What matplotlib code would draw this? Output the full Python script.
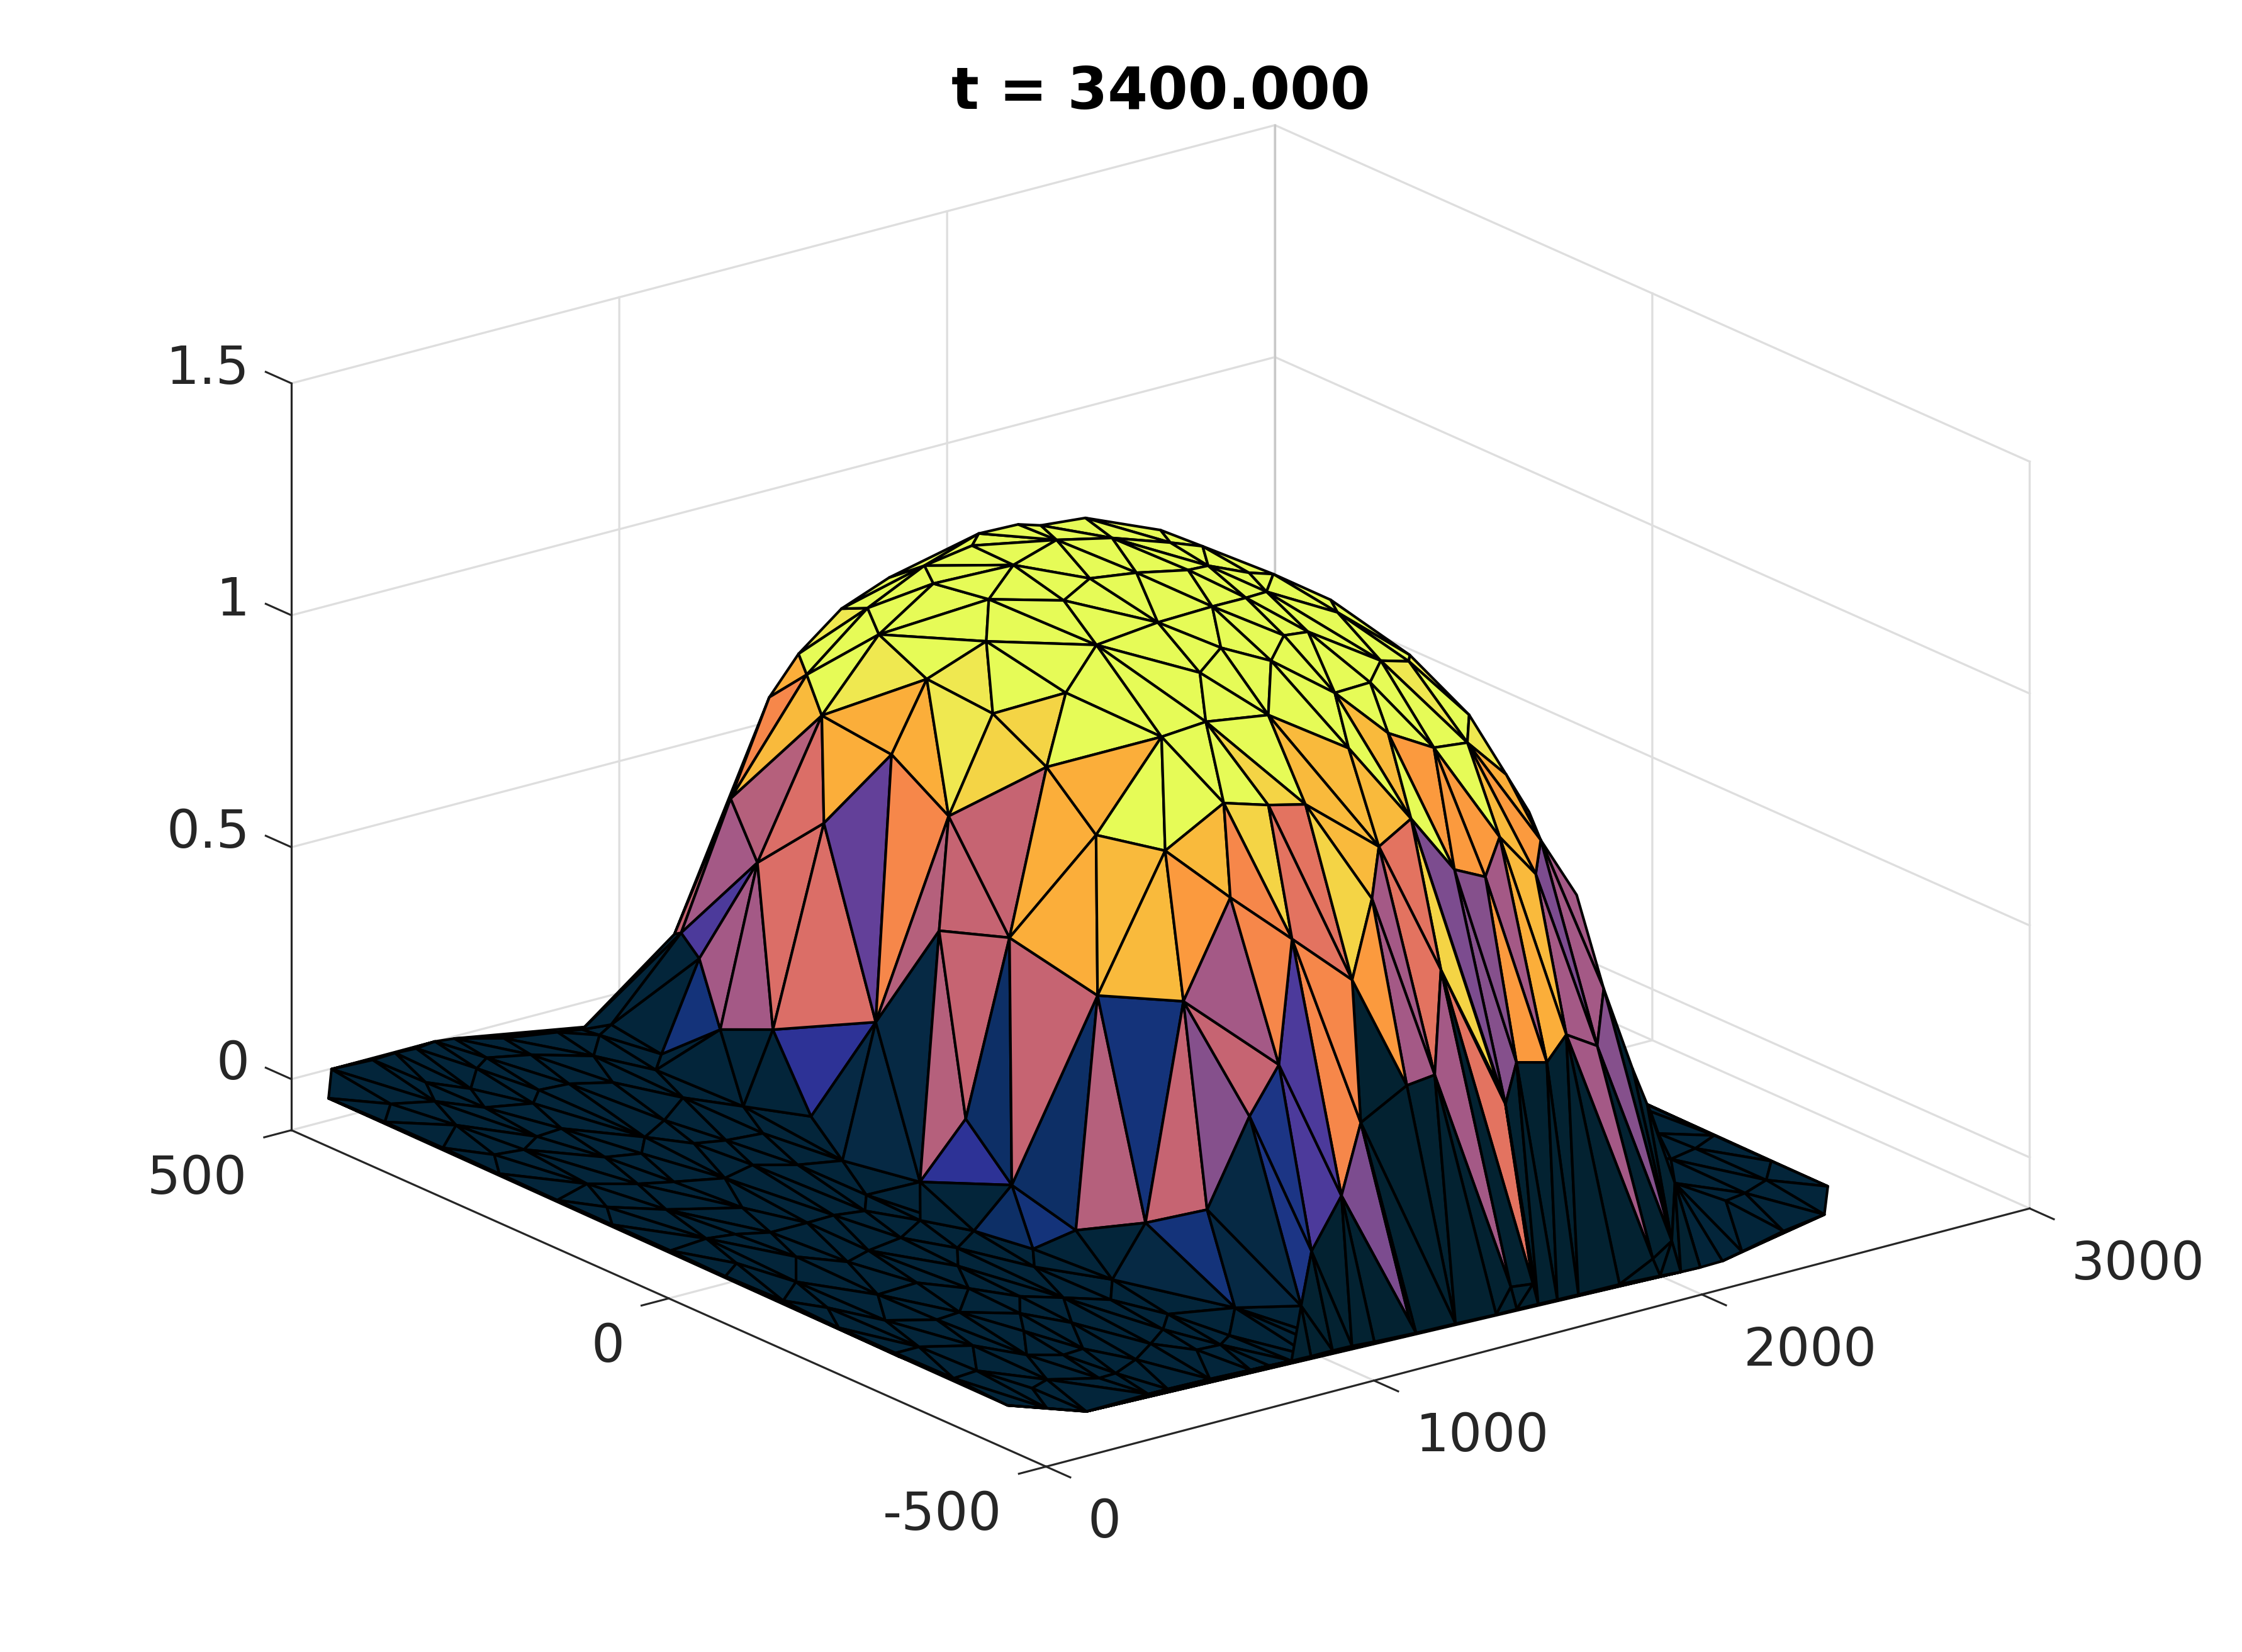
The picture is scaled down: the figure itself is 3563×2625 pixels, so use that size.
import numpy as np
import matplotlib
matplotlib.use('Agg')
import matplotlib.pyplot as plt
import matplotlib.tri as mtri
from mpl_toolkits.mplot3d.art3d import Poly3DCollection

# mesh nodes on the ice dome
dome_names = """A1 A2 A3 A4 A5 A6 A7 A8 A9 A10 A11 A12 A13 A14 A15 A16 A17 A18 A19 A20 A21 A22 A23 A24 A25 A26 A27 S1 T1 B1
B3 B6 B7 B8 B9 B10 B11 B13 B14 B15 B16 B17 B18 B19 B20 B21 B22 B23 B24 B25 B26 B27 B28 B29 B31 B32 B33 B35 B36 B37
B38 B39 B40 B41 B42 B43 B44 B45 B46 B47 B49 B50 R1 R2 C2 C3 C4 C5 C6 C7 C8 C13 C16 D2 D3 D4 D5 D7 D8 D9
D10 D11 D12 D13 D14 D15 D16 D17 D18 G2 G3 G4 G5 G6 G7 G8 G9 G10 G11 G12 G15 T3 T4 T5 T6 T7 T8""".split()
dome_x = [1482, 1547, 1457, 1404, 1293, 1429, 1279, 1188, 1237, 1310, 1284, 1297, 1175, 1102, 1167, 1093, 1015, 1073, 993, 1124,
          1086, 912, 966, 856, 953, 876, 908, 761, 1466, 1524, 1546, 1449, 1557, 1376, 1312, 1467, 1514, 1303, 1416, 1498,
          1554, 1178, 1355, 1277, 1425, 1499, 1561, 1692, 1681, 1509, 1612, 1686, 1767, 1786, 1217, 1336, 1137, 1457, 1568, 1673,
          1789, 1852, 1161, 1228, 1302, 958, 1033, 1411, 1523, 1623, 1521, 1572, 1866, 1899, 779, 763, 797, 838, 728, 774,
          809, 724, 747, 1096, 1176, 1265, 1353, 859, 969, 1099, 1030, 1236, 1184, 956, 881, 1335, 1404, 1469, 1577, 1655,
          1754, 1834, 1900, 1982, 2030, 1810, 1941, 1635, 1723, 1583, 2021, 1058, 1573, 1913, 1800, 1462, 1406]
dome_y = [233, 209, 231, 96, 105, 282, 205, 92, 14, 277, 329, 300, 232, 58, 335, 292, 99, -60, 2, 355,
          269, 101, -81, 1, 332, 175, 277, 323, 144, 110, 20, 42, -31, -22, 12, -51, -57, -82, -105, -114,
          -117, -55, -143, -149, -179, -164, -169, -142, -156, -227, -229, -211, -213, -206, -183, -214, -159, -268, -272, -287,
          -281, -256, -231, -261, -278, -150, -209, -328, -322, -96, -4, -86, -299, -315, 322, 291, 278, 226, 42, -22,
          -100, -79, -130, -268, -315, -356, -344, -195, -261, -331, -322, -380, -377, -298, -249, -398, -405, -385, -356, -363,
          -339, -352, -330, -342, -357, -403, -387, -413, -415, -421, -399, -523, -417, -498, -522, -510, -505]
dome_z = [1.095, 1.12, 1.075, 1.195, 1.155, 1.0, 1.045, 1.11, 1.155, 1.0, 0.9, 0.92, 0.935, 1.06, 0.82, 0.82, 0.965, 1.04, 0.965, 0.72,
          0.75, 0.82, 0.915, 0.77, 0.55, 0.625, 0.46, 0.3, 1.18, 1.21, 1.245, 1.23, 1.245, 1.215, 1.19, 1.225, 1.23, 1.165, 1.195, 1.205,
          1.21, 1.12, 1.145, 1.11, 1.13, 1.16, 1.16, 1.185, 1.17, 1.08, 1.085, 1.105, 1.09, 1.095, 1.04, 1.055, 1.005, 1.0, 1.015, 0.975,
          0.96, 0.99, 0.91, 0.915, 0.915, 0.82, 0.815, 0.84, 0.875, 1.22, 1.24, 1.225, 0.89, 0.815, 0.3, 0.27, 0.12, 0.15, 0.32, 0.555,
          0.59, 0.2, 0.09, 0.745, 0.675, 0.6, 0.75, 0.525, 0.54, 0.43, 0.325, 0.315, 0.165, 0.12, 0.07, 0.39, 0.405, 0.605, 0.78, 0.755,
          0.805, 0.72, 0.765, 0.64, 0.44, 0.415, 0.355, 0.395, 0.38, 0.32, 0.3, 0.02, 0.355, 0.02, 0.02, 0.02, 0.02]

# mesh nodes on the flat part, all at height 0
floor_names = """C9 C10 C11 C12 C14 C15 C17 C18 C19 C20 C21 C22 C23 C24 C25 C26 C27 C28 C29
E3 E7 E8 E9 E10 E11 E12 E13 E15 E16 E17 E18 E19 E20 E21 E22 E23 E24 E25 E26 E27 E28 E29 E30 E31 E32 E33 E34 E35 E36 E37 E38 E39 E40 E41 E42 E43 E44
F1 F2 F3 F4 F5 F6 F7 F8 F9 F12 F13 F14 F15 F16 F17
G16 G17 G18 G19 G20 G21 G22 G23 G24 G25 G26 G27 G28 G29 G30 G31 G32 G33 G34 G35 G36 G37 G38 G39 G40 G41 G42
H1 H2 H3 H4 H5 H6 H7 H8 H15 H16 H17 H18 H19 H20 H21 H22 H23 H24 H25 H26 H27 H28 H29 H30 H31 H32 H36 H44 H45 H46 H47 H48 H49 H50 H51 H52 H53 H54 H55 H56 H57 H58 H59 H60 H61 H64 H65 H66 H67 H68 H69 H70 H75 H76 H77 H78 H79 H80 H81 H82""".split()
floor_x = [818, 739, 750, 837, 707, 764, 672, 672, 571, 605, 516, 603, 406, 534, 599, 539, 429, 496, 352,
           855, 657, 692, 713, 1217, 962, 827, 671, 551, 487, 618, 623, 541, 463, 475, 399, 279, 390, 449, 321, 224, 359, 510, 572, 697, 640, 596, 324, 203, 52, 161, 60, 294, 414, 316, 263, 157, 91,
           -30, 95, 348, 472, 589, 707, 830, 887, 948, -17, -20, 33, 764, 643, 289,
           2494, 2489, 2488, 2488, 2360, 2210, 2042, 1964, 1894, 1837, 1781, 1666, 1543, 1481, 1425, 1362, 1299, 1182, 1066, 2304, 2397, 2230, 2300, 2397, 2208, 2390, 2470,
           120, -11, 438, 713, 771, 849, 781, 680, 603, 428, 360, 249, 303, 402, 467, 244, 180, 84, -5, 118, -5, 64, -8, 143, 224, 306, 266, 292, 214, 117, -11, 55, -11, 158, 110, -11, 62, -16, 96, 204, 184, 260, 312, 372, 455, -10, 45, -20, 101, 198, 281, 370, -28, 312, 372, 239, 488, 584, 565, 513]
floor_y = [365, 338, 227, 175, 77, -1, 273, 167, 172, 1, 113, 91, 102, -28, -73, 240, 218, 182, 189,
           -168, -119, -182, -278, -323, -420, -391, -370, -143, -96, -216, -315, -288, -264, -177, -224, -264, -296, -339, -331, -377, -393, -417, -451, -440, -453, -396, -188, -267, -309, -333, -382, -395, -439, -455, -456, -433, -442,
           -462, -512, -510, -512, -515, -518, -519, -520, -523, -385, -309, -487, -519, -516, -510,
           -213, -304, -380, -455, -506, -517, -535, -543, -544, -543, -540, -536, -535, -534, -533, -532, -532, -529, -527, -327, -319, -432, -427, -413, -374, -273, -228,
           499, 446, 500, 457, 450, 445, 431, 395, 336, 358, 336, 352, 394, 429, 444, 428, 388, 405, 374, 333, 297, 259, 221, 254, 272, 275, 200, 120, 134, 159, 143, 106, 70, 72, -2, -7, -63, -82, -127, -80, -8, -22, 38, -22, -21, -156, -191, -234, -243, -191, -115, -104, -318, 498, 496, 496, 496, 472, 428, 355]

# each facet: three nodes and the colour level of that facet
dome_facets = """A1 A2 A4 21;A2 T1 A4 21;T1 B1 B6 21;T1 B6 A4 21;A1 A3 A4 21;A3 A5 A4 21;A3 A6 A5 21;A6 A7 A5 21;A7 A8 A5 21;A5 A8 A9 21;A5 A4 B9 21;A5 B9 A9 21;A1 A3 A6 21;A1 A6 A10 21;A10 A6 A11 21;A11 A6 A12 21;A6 A7 A12 21;A12 A7 A13 21;A7 A8 A13 21;A13 A8 A14 21;A8 A9 B17 21;A8 B17 A14 21;A11 A12 A15 20;A15 A12 A16 21;A12 A13 A16 21;A16 A13 A21 21;A13 A17 A21 20;A13 A14 A17 21;A14 A19 A17 20;A14 A18 A19 21;A14 B17 A18 21;A15 A16 A20 17;A20 A16 A25 15;A16 A21 A25 18;A25 A21 A27 11;A21 A26 A27 13;A21 A22 A26 17;A21 A17 A22 17;A17 A24 A22 17;A17 A19 A24 20;A19 A23 A24 19;A19 A18 A23 19;A26 A22 C6 7;A22 A24 C6 15;A24 C7 C6 11;A24 C8 C7 12;A24 A23 C8 12;A27 A26 C5 13;A26 C6 C5 13;A27 C4 C5 10;C3 A27 C4 10;C2 A27 C3 6;A25 A27 C2 10;A20 A25 S1 13;A25 S1 C2 12;C3 C4 C9 3;C3 H6 C9 0;C2 S1 H5 0;C2 H5 H6 0;C2 H6 C3 0;C9 C4 C10 0;C10 C4 C11 0;C4 C5 C11 0;C5 C12 C11 0;C5 C6 C12 5;C6 C14 C12 1;C6 C15 C14 1;C6 C7 C15 1;C7 C13 C15 11;C13 C16 C15 5;C7 C8 C13 12;C8 C16 C13 2;C8 D7 C16 12;D7 E3 C16 2;C16 E3 E8 3;C16 E8 E7 2;C15 C16 E7 0;C15 E7 C25 0;E3 D7 D14 11;D7 D8 D14 3;D8 D13 D14 12;D8 D10 D13 9;D8 D9 D10 12;D8 D2 D9 10;D2 D3 D9 15;D3 D12 D9 6;D3 D11 D12 15;D3 D4 D11 15;D9 E10 D10 4;D9 D12 E10 6;D10 E10 E11 4;D10 D13 E11 1;D13 E12 E11 1;D14 D13 E12 3;D14 E12 E9 1;E3 D14 E9 0;E3 E8 E9 0;E8 E17 E9 0;D11 D12 T3 8;D4 D15 D11 22;D11 D15 G33 22;D11 G33 G34 22;D11 G34 T3 22;D12 T3 G34 22;D12 G34 F9 22;D12 F9 F8 22;D12 F8 E10 22;E10 F8 F7 22;E10 F7 E11 22;E11 F7 F15 22;E11 F15 F6 22;D15 D16 G33 22;D16 T8 G32 22;D16 G32 G33 22;D17 T8 D16 10;D17 T7 T8 22;T8 T7 G31 22;T8 G31 G32 22;D17 G12 T7 14;D17 T4 G12 14;G12 T7 G30 22;T7 G30 G31 22;G12 G10 G30 22;G10 G29 G30 22;G10 G11 G29 22;G11 G28 G29 22;G11 G8 G28 22;G8 T6 G27 22;G8 G27 G28 22;G8 G9 T6 10;T6 G26 G27 22;G9 T5 T6 22;T6 T5 G26 22;T5 G25 G26 22;G9 G7 T5 9;G7 G15 T5 22;G15 G16 T5 22;G16 G40 T5 22;G40 G25 T5 22;G40 G24 G25 22;B46 D17 T4 19;B46 T4 G12 8;B46 D18 G12 8;D18 G10 G12 9;D18 G2 G10 9;G2 G11 G10 16;G2 G3 G11 10;G3 G8 G11 17;G3 G4 G8 18;G4 G9 G8 10;G4 G5 G9 8;G5 G7 G9 10;G5 G6 G7 10;B36 D18 B46 21;B36 B37 D18 16;B37 G2 D18 16;B37 G3 G2 16;B37 B38 G3 21;B38 G4 G3 18;B38 G5 G4 16;B38 R1 G5 17;B38 B39 R1 20;R1 R2 G5 17;B25 B36 B46 18;B25 B46 B35 21;B26 B36 B25 21;B26 B37 B36 21;B27 B37 B26 21;B27 B38 B37 21;B27 B28 B38 20;B28 B39 B38 21;B28 B29 B39 20;B24 B28 B27 21;B24 B29 B28 21;B24 B23 B29 21;B47 B23 B24 21;B16 B47 B24 21;B16 B24 B27 21;B16 B27 B22 21;B22 B27 B26 21;B22 B26 B25 21;B21 B22 B25 21;B20 B25 B21 21;B20 B35 B25 21;B20 B35 B32 21;B20 B21 B14 21;B14 B15 B21 21;B15 B22 B21 21;B16 B22 B15 21;B11 B16 B15 21;B10 B11 B15 21;B10 B15 B14 21;B8 B10 B14 21;B8 B14 B13 21;B6 B8 B10 21;B6 B10 B11 21;B49 B6 B11 21;B49 B11 B7 21;B7 B11 B50 21;B7 B50 B47 21;B11 B50 B16 21;B50 B47 B16 21;B1 B6 B49 21;B1 B49 B3 21;B3 B49 B7 21;A4 B6 B8 21;A4 B8 B9 21;B9 B8 B13 21;B9 B13 A9 21;A9 B13 B17 21;B13 B14 B18 21;B13 B18 B19 21;B13 B19 B17 21;B14 B20 B18 21;B18 B20 B32 21;B18 B32 B19 21;B19 B32 B31 21;B17 B19 B31 21;B17 B31 B33 21;B17 B33 A18 21;A18 B33 A23 21;B33 B31 B40 21;B31 B41 B40 21;B31 B42 B41 19;B31 B32 B42 21;B32 B45 B42 18;B32 B35 B45 18;B35 B46 B45 18;B33 B40 B44 21;B33 B44 B43 21;A23 B33 B43 17;A23 B43 C8 17;B43 D7 C8 17;B43 B44 D7 18;B44 D8 D7 18;B44 D2 D8 16;B44 B40 D2 18;B40 D3 D2 15;B40 B41 D3 19;B41 D4 D3 14;B41 B42 D4 14;B42 D5 D4 19;B42 B45 D5 18;B45 B46 D17 14;B45 D16 D17 14;B45 D5 D16 10;D5 D15 D16 10;D4 D5 D15 16"""

level_colors = ['#03253a', '#062944', '#0d2f66', '#14337a', '#1c3585', '#2d3296', '#4c3a9b', '#634099',
                '#7c4c8f', '#85508c', '#a45986', '#b5607c', '#c66472', '#db6e67', '#e37360', '#f6874a',
                '#fb9a3e', '#fbae3a', '#f9ba3c', '#f4d445', '#efe850', '#e6fb57', '#032231']

x_ticks = [0, 1000, 2000, 3000]
y_ticks = [-500, 0, 500]
z_ticks = [0, 0.5, 1, 1.5]
z_labels = ['0', '0.5', '1', '1.5']
zmin = -0.11
zmax = 1.5
title = 't = 3400.000'

grid_color = '#dedede'
axis_color = '#262626'

fig = plt.figure(figsize=(3563/300, 2625/300), dpi=300)
ax = fig.add_axes([-107/3563, -591/2625, 3800/3563, 3800/2625], projection='3d', computed_zorder=False)
ax.set_proj_type('ortho')
ax.view_init(elev=20, azim=-127.5)
ax.set_xlim(0, 3000)
ax.set_ylim(-500, 500)
ax.set_zlim(zmin, zmax)
ax.set_box_aspect((1, 1, 0.641), zoom=0.7815)
ax.set_axis_off()

node_pos = {}
for n, x, y, z in zip(dome_names, dome_x, dome_y, dome_z):
    node_pos[n] = (x, y, z)
for n, x, y in zip(floor_names, floor_x, floor_y):
    node_pos[n] = (x, y, 0.0)

# grid on the floor and the two back walls
for xv in x_ticks:
    ax.plot([xv, xv, xv], [-500, 500, 500], [zmin, zmin, zmax], color=grid_color, lw=0.8, zorder=1)
for yv in y_ticks:
    ax.plot([0, 3000, 3000], [yv, yv, yv], [zmin, zmin, zmax], color=grid_color, lw=0.8, zorder=1)
for zv in z_ticks:
    ax.plot([0, 3000, 3000], [500, 500, -500], [zv, zv, zv], color=grid_color, lw=0.8, zorder=1)
ax.plot([3000, 3000], [500, 500], [zmin, zmax], color='#c8c8c8', lw=0.8, zorder=1)

# the flat part, triangulated from its nodes
tri = mtri.Triangulation(floor_x, floor_y)
floor_verts = [[node_pos[floor_names[i]] for i in t] for t in tri.triangles]
ax.add_collection3d(Poly3DCollection(floor_verts, facecolors=level_colors[0], edgecolors='k', linewidths=1.0, zorder=2))

# the dome
verts, cols = [], []
for item in dome_facets.split(';'):
    a, b, c, level = item.split()
    verts.append([node_pos[a], node_pos[b], node_pos[c]])
    cols.append(level_colors[int(level)])
ax.add_collection3d(Poly3DCollection(verts, facecolors=cols, edgecolors='k', linewidths=1.0, zorder=3))

# axis lines, ticks and tick labels
ax.plot([0, 3000], [-500, -500], [zmin, zmin], color=axis_color, lw=0.75, zorder=4)
ax.plot([0, 0], [-500, 500], [zmin, zmin], color=axis_color, lw=0.75, zorder=4)
ax.plot([0, 0], [500, 500], [zmin, zmax], color=axis_color, lw=0.75, zorder=4)
for xv in x_ticks:
    ax.plot([xv, xv], [-500, -532], [zmin, zmin], color=axis_color, lw=0.75, zorder=4)
    ax.text(xv, -555, zmin - 0.081, str(xv), ha='left', va='center', fontsize=20, color=axis_color)
for yv in y_ticks:
    ax.plot([0, -83], [yv, yv], [zmin, zmin], color=axis_color, lw=0.75, zorder=4)
    ax.text(-135, yv, zmin - 0.08, str(yv), ha='right', va='center', fontsize=20, color=axis_color)
for zv, zl in zip(z_ticks, z_labels):
    ax.plot([0, 0], [500, 534], [zv, zv], color=axis_color, lw=0.75, zorder=4)
    ax.text(-8, 552, zv - 0.005, zl, ha='right', va='center', fontsize=20, color=axis_color)

fig.text(1845/3563, 1 - 147/2625, title, ha='center', va='center', fontsize=22, fontweight='bold')

fig.savefig('out.png', dpi=300)
